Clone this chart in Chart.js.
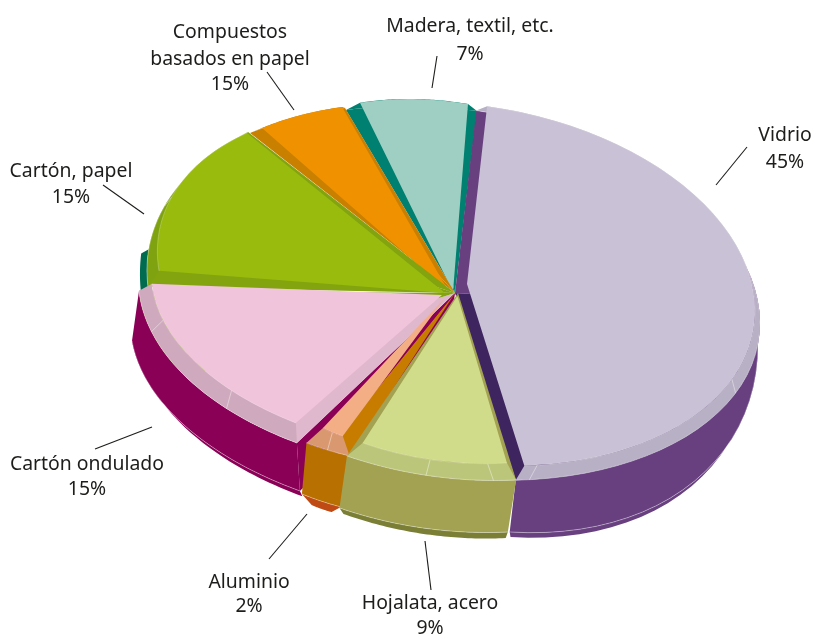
<!DOCTYPE html>
<html>
<head>
<meta charset="utf-8">
<style>html,body{margin:0;padding:0;background:#fff}canvas{display:block}</style>
<script src="https://cdn.jsdelivr.net/npm/chart.js@4"></script>
</head>
<body>
<canvas id="c" width="815" height="637"></canvas>
<script>
// ---- data ----
const categories = ['Vidrio','Hojalata, acero','Aluminio','Cartón ondulado','Cartón, papel','Compuestos basados en papel','Madera, textil, etc.'];
const drawnShares = [45.7, 9.4, 2.8, 15.7, 14.6, 5.0, 6.8];   // angular share of each slice as drawn
const printedShares = ['45%','9%','2%','15%','15%','15%','7%']; // percentages as printed on the labels
const labelLines = [['Vidrio'],['Hojalata, acero'],['Aluminio'],['Cartón ondulado'],['Cartón, papel'],['Compuestos','basados en papel'],['Madera, textil, etc.']];
const faceColors = ['#c9c1d5','#d1dc8a','#f4ae85','#f0c4da','#98bb0e','#f09200','#9ecfc2'];

// ---- styling: projection of each slice's layers (x,y,a,b,c,d maps the unit circle), colours ----
const paintOrder = [6,5,4,3,2,0,1];
const sliceStyle = [
 { top:[467,284,288,0,27,180], hull:[455,293,305,0,30,185], base:[448,275,310,0,70,248], lip:[450,280,304,0,70,248],
   strip:['#684080','#3e2560'], bevel:'#b8b0c4', wall:'#684080', lipColor:'#684080', seams:[.663,.984], rim:true },
 { top:[457.4,296,249,0,18.8,166.6], hull:[458,293,292,0,23.8,186], base:[450,345,290.6,0,23.8,186], lip:[450,351,280,0,23.8,186],
   strip:['#a2a252','#a2a252'], bevel:'#bcc67a', wall:'#a2a252', lipColor:'#7b7f35', seams:[.133,.525], rim:true },
 { top:[445,298,152,-48,-21.4,140.3], hull:[455,293,277,0,-6.7,173.4], base:[436,344,250,0,-6.7,173.4], lip:[380,418,127,0,-6.7,99],
   strip:['#c77c00','#8b0057'], bevel:'#d9986f', wall:'#b87000', lipColor:'#c04a14', seams:[.5], rim:true },
 { top:[442,295,290.3,11.4,14.1,160.6], hull:[455,293,316.3,13.7,5.5,181.2], base:[448,345,316.5,25.7,7.4,177.6], lip:[448,350,312,25.7,7.4,178],
   strip:['#e0b8cd','#83a30f'], bevel:'#cfa9bd', wall:'#8b0057', lipColor:'#8b0057', seams:[.287,.77], rim:true, startWall:true },
 { top:[445,293,286.5,25.2,25.5,184.1], hull:[455,293,307.4,20,9.8,197.9], base:[448,299,307.4,20,9.8,233],
   strip:['#83a30f','#83a30f'], bevel:'#7fa310', wall:'#006b4f', seams:[.46], rim:true },
 { top:[449,292,295.8,3.7,28.7,186.8], hull:[455,293,342.7,-10.6,16.4,191.4],
   strip:['#c97f00','#c97f00'], bevel:'#c97f00', seams:[] },
 { top:[453,292,257.8,3,30.6,190.6], hull:[455,293,312,-.2,29,184.5],
   strip:['#008070','#008070'], bevel:'#008070', seams:[] }
];

// ---- callout layout ----
const callouts = [
 { lines:[[785,141],[785,168]], leader:[747,147,716,185] },
 { lines:[[430,609],[430,634]], leader:[425,541,431,590] },
 { lines:[[249,588],[249,612]], leader:[269,559,307,514] },
 { lines:[[87,470],[87,495]],  leader:[95,449,152,427] },
 { lines:[[71,177],[71,203]],  leader:[103,185,144,214] },
 { lines:[[230,38],[230,65],[230,90]], leader:[267,72,294,110] },
 { lines:[[470,32],[470,60]],  leader:[437,56,432,88] }
];

const STEPS = 48;
const pt = (p, phi) => {
  const X = Math.cos(phi), Y = Math.sin(phi);
  return [p[0] + p[2]*X + p[3]*Y, p[1] + p[4]*X + p[5]*Y];
};
const arcPts = (p, a1, a2, floorPose) => {
  const out = [];
  for (let i = 0; i <= STEPS; i++) {
    const phi = a1 + (a2-a1)*i/STEPS;
    let q = pt(p, phi);
    if (floorPose) { const f = pt(floorPose, phi); if (q[1] < f[1]) q = f; }
    out.push(q);
  }
  return out;
};
function fillPoly(ctx, pts, color) {
  ctx.beginPath();
  pts.forEach((q,i)=> i ? ctx.lineTo(q[0],q[1]) : ctx.moveTo(q[0],q[1]));
  ctx.closePath();
  ctx.fillStyle = color;
  ctx.fill();
}
function strokeLine(ctx, pts, color, w) {
  ctx.beginPath();
  pts.forEach((q,i)=> i ? ctx.lineTo(q[0],q[1]) : ctx.moveTo(q[0],q[1]));
  ctx.strokeStyle = color; ctx.lineWidth = w; ctx.stroke();
}
const SEAM = 'rgba(255,255,255,0.45)';

const pie3d = {
  id:'pie3d',
  beforeDatasetDraw(chart) {
    const ctx = chart.ctx, arcs = chart.getDatasetMeta(0).data;
    paintOrder.forEach(i => {
      const arc = arcs[i], s = sliceStyle[i], a1 = arc.startAngle, a2 = arc.endAngle;
      const hull = arcPts(s.hull, a1, a2), top = arcPts(s.top, a1, a2);
      if (s.base) {
        const base = arcPts(s.base, a1, a2, s.hull);
        if (s.lip) {
          const lip = arcPts(s.lip, a1, a2, s.base);
          const low = lip.map((q,k)=> q[1] < base[k][1] ? base[k] : q);
          fillPoly(ctx, base.concat(low.slice().reverse()), s.lipColor);
        }
        if (s.startWall) {
          fillPoly(ctx, [[s.hull[0],s.hull[1]], hull[0], base[0], [s.base[0],s.base[1]]], s.wall);
        }
        fillPoly(ctx, hull.concat(base.slice().reverse()), s.wall);
        if (s.lip) strokeLine(ctx, base, SEAM, 0.8);
      }
      const apex = [s.hull[0], s.hull[1]], mid = STEPS/2;
      fillPoly(ctx, [apex].concat(hull.slice(0, mid+1)), s.strip[0]);
      fillPoly(ctx, [apex].concat(hull.slice(mid)), s.strip[1]);
      fillPoly(ctx, top.concat(hull.slice().reverse()), s.bevel);
      if (s.rim) strokeLine(ctx, hull, SEAM, 0.8);
      (s.seams||[]).forEach(f => {
        const phi = a1 + (a2-a1)*f;
        strokeLine(ctx, [pt(s.top,phi), pt(s.hull,phi)], SEAM, 0.9);
      });
      // the slice face itself: the library's own arc, seen through the slice's projection
      const r = arc.outerRadius, m = s.top;
      ctx.save();
      ctx.transform(m[2]/r, m[4]/r, m[3]/r, m[5]/r,
        m[0] - (m[2]*arc.x + m[3]*arc.y)/r,
        m[1] - (m[4]*arc.x + m[5]*arc.y)/r);
      arc.draw(ctx);
      ctx.restore();
      if (s.rim) strokeLine(ctx, top, 'rgba(255,255,255,0.3)', 0.8);
    });
    return false;
  },
  afterDraw(chart) {
    const ctx = chart.ctx;
    ctx.save();
    ctx.fillStyle = '#1d1d1b';
    ctx.font = '19.4px "Noto Sans"';
    ctx.textAlign = 'center';
    ctx.textBaseline = 'alphabetic';
    categories.forEach((name,i) => {
      const c = callouts[i], texts = labelLines[i].concat(printedShares[i]);
      texts.forEach((t,k) => ctx.fillText(t, c.lines[k][0], c.lines[k][1]));
      strokeLine(ctx, [[c.leader[0],c.leader[1]],[c.leader[2],c.leader[3]]], '#1d1d1b', 1.1);
    });
    ctx.restore();
  }
};

new Chart(document.getElementById('c'), {
  type:'pie',
  data:{ labels:categories, datasets:[{ data:drawnShares, backgroundColor:faceColors, borderWidth:0, hoverOffset:0 }] },
  options:{
    responsive:false, animation:false, rotation:4,
    layout:{padding:0},
    plugins:{legend:{display:false}, tooltip:{enabled:false}}
  },
  plugins:[pie3d]
});
</script>
</body>
</html>
